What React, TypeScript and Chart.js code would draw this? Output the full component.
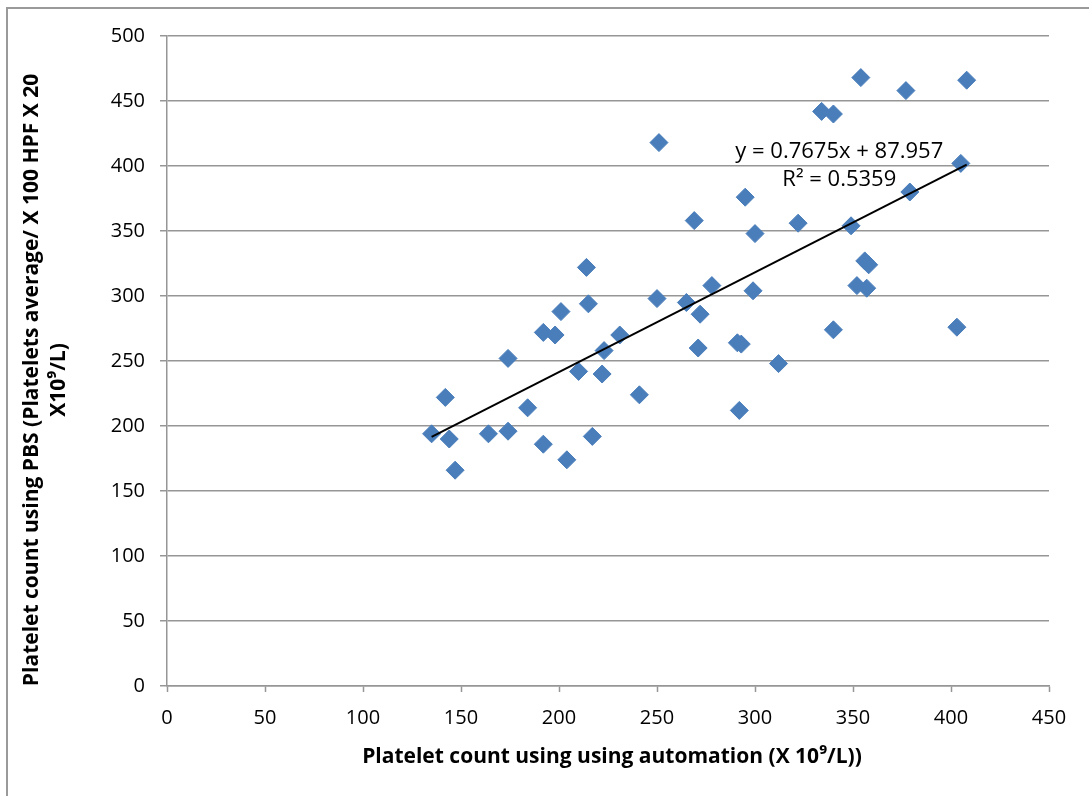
import React, { useEffect, useRef } from 'react';
import { Chart, registerables } from 'chart.js';

Chart.register(...registerables);

// ---- Data ----
const automationCounts = [
  135, 142, 144, 147, 164, 174, 174, 184, 192, 192,
  198, 201, 204, 210, 214, 215, 217, 222, 223, 231,
  241, 250, 251, 265, 269, 271, 272, 278, 291, 293,
  292, 295, 299, 300, 312, 322, 334, 340, 340, 349,
  352, 354, 356, 358, 357, 377, 379, 403, 405, 408,
];
const pbsCounts = [
  194, 222, 190, 166, 194, 196, 252, 214, 186, 272,
  270, 288, 174, 242, 322, 294, 192, 240, 258, 270,
  224, 298, 418, 295, 358, 260, 286, 308, 264, 263,
  212, 376, 304, 348, 248, 356, 442, 440, 274, 354,
  308, 468, 327, 324, 306, 458, 380, 276, 402, 466,
];

const xTicks = { min: 0, max: 450, step: 50 };
const yTicks = { min: 0, max: 500, step: 50 };

const trendSlope = 0.7675;
const trendIntercept = 87.957;
const equationLabel = 'y = 0.7675x + 87.957';
const rSquaredLabel = 'R\u00B2 = 0.5359';
const equationAnchor = { x: 343, y: 411 };

const xTitle = 'Platelet count using using automation (X 10\u2079/L))';
const yTitleLines = [
  'Platelet count using PBS (Platelets average/ X 100 HPF X 20',
  'X10\u2079/L)',
];

const MARKER_COLOR = '#4a7ebb';
const GRID_COLOR = '#969696';
const TEXT_FONT = '"Open Sans", "Noto Sans", sans-serif';

function fitFont(ctx: CanvasRenderingContext2D, text: string, width: number, weight: string) {
  ctx.font = `${weight} 20px ${TEXT_FONT}`;
  const w = ctx.measureText(text).width;
  return (20 * width) / w;
}

const overlayPlugin = {
  id: 'overlay',
  beforeDraw(chart: any) {
    const ctx = chart.ctx as CanvasRenderingContext2D;
    ctx.save();
    ctx.fillStyle = '#ffffff';
    ctx.fillRect(0, 0, chart.width, chart.height);
    ctx.strokeStyle = '#9a9a9a';
    ctx.lineWidth = 2;
    ctx.beginPath();
    ctx.moveTo(7, chart.height + 5);
    ctx.lineTo(7, 8);
    ctx.lineTo(chart.width + 5, 8);
    ctx.stroke();
    ctx.restore();
  },
  afterDraw(chart: any) {
    const ctx = chart.ctx as CanvasRenderingContext2D;
    const area = chart.chartArea;
    const xs = chart.scales.x;
    const ys = chart.scales.y;
    ctx.save();
    ctx.fillStyle = '#000000';
    ctx.textAlign = 'center';
    ctx.textBaseline = 'middle';

    // axis titles
    const titleSize = fitFont(ctx, xTitle, 500, 'bold');
    ctx.font = `bold ${titleSize}px ${TEXT_FONT}`;
    ctx.fillText(xTitle, (area.left + area.right) / 2 + 4, 757);

    ctx.save();
    ctx.translate(0, 380);
    ctx.rotate(-Math.PI / 2);
    ctx.fillText(yTitleLines[0], 0, 32);
    ctx.fillText(yTitleLines[1], 0, 59);
    ctx.restore();

    // trendline equation
    const eqSize = fitFont(ctx, equationLabel, 208, 'normal');
    ctx.font = `normal ${eqSize}px ${TEXT_FONT}`;
    const ex = xs.getPixelForValue(equationAnchor.x);
    const ey = ys.getPixelForValue(equationAnchor.y);
    ctx.fillText(equationLabel, ex, ey);
    ctx.fillText(rSquaredLabel, ex, ey + 28);
    ctx.restore();
  },
};

export default function App() {
  const canvasRef = useRef<HTMLCanvasElement | null>(null);

  useEffect(() => {
    if (!canvasRef.current) return;
    const points = automationCounts.map((x, i) => ({ x, y: pbsCounts[i] }));
    const xMin = Math.min(...automationCounts);
    const xMax = Math.max(...automationCounts);
    const trend = [xMin, xMax].map((x) => ({ x, y: trendSlope * x + trendIntercept }));

    const chart = new Chart(canvasRef.current, {
      type: 'scatter',
      data: {
        datasets: [
          {
            label: 'Trend',
            data: trend,
            showLine: true,
            borderColor: '#000000',
            borderWidth: 2,
            pointRadius: 0,
            fill: false,
            order: 0,
          } as any,
          {
            label: 'Platelet count',
            data: points,
            pointStyle: 'rectRot',
            pointRadius: 9,
            backgroundColor: MARKER_COLOR,
            borderColor: MARKER_COLOR,
            borderWidth: 1,
            order: 1,
          } as any,
        ],
      },
      options: {
        responsive: false,
        animation: false,
        layout: { padding: { top: 36, right: 40, left: 0, bottom: 0 } },
        plugins: {
          legend: { display: false },
          tooltip: { enabled: false },
        },
        scales: {
          x: {
            type: 'linear',
            min: xTicks.min,
            max: xTicks.max,
            ticks: {
              stepSize: xTicks.step,
              color: '#000000',
              font: { family: TEXT_FONT, size: 20 },
              padding: 14,
              maxRotation: 0,
            },
            grid: {
              drawOnChartArea: false,
              drawTicks: true,
              tickLength: 6,
              tickColor: GRID_COLOR,
              tickWidth: 1.5,
            },
            border: { display: true, color: GRID_COLOR, width: 1.5 },
            afterFit: (scale: any) => {
              scale.height = 110;
            },
          },
          y: {
            type: 'linear',
            min: yTicks.min,
            max: yTicks.max,
            ticks: {
              stepSize: yTicks.step,
              color: '#000000',
              font: { family: TEXT_FONT, size: 20 },
              padding: 15,
            },
            grid: {
              color: GRID_COLOR,
              lineWidth: 1.5,
              drawTicks: true,
              tickLength: 7,
              tickColor: GRID_COLOR,
            },
            border: { display: true, color: GRID_COLOR, width: 1.5 },
            afterFit: (scale: any) => {
              scale.width = 167;
            },
          },
        },
      },
      plugins: [overlayPlugin],
    });
    return () => chart.destroy();
  }, []);

  return (
    <div style={{ position: 'absolute', left: 0, top: 0, width: 1089, height: 796, background: '#fff' }}>
      <canvas ref={canvasRef} width={1089} height={796} style={{ display: 'block' }} />
    </div>
  );
}
